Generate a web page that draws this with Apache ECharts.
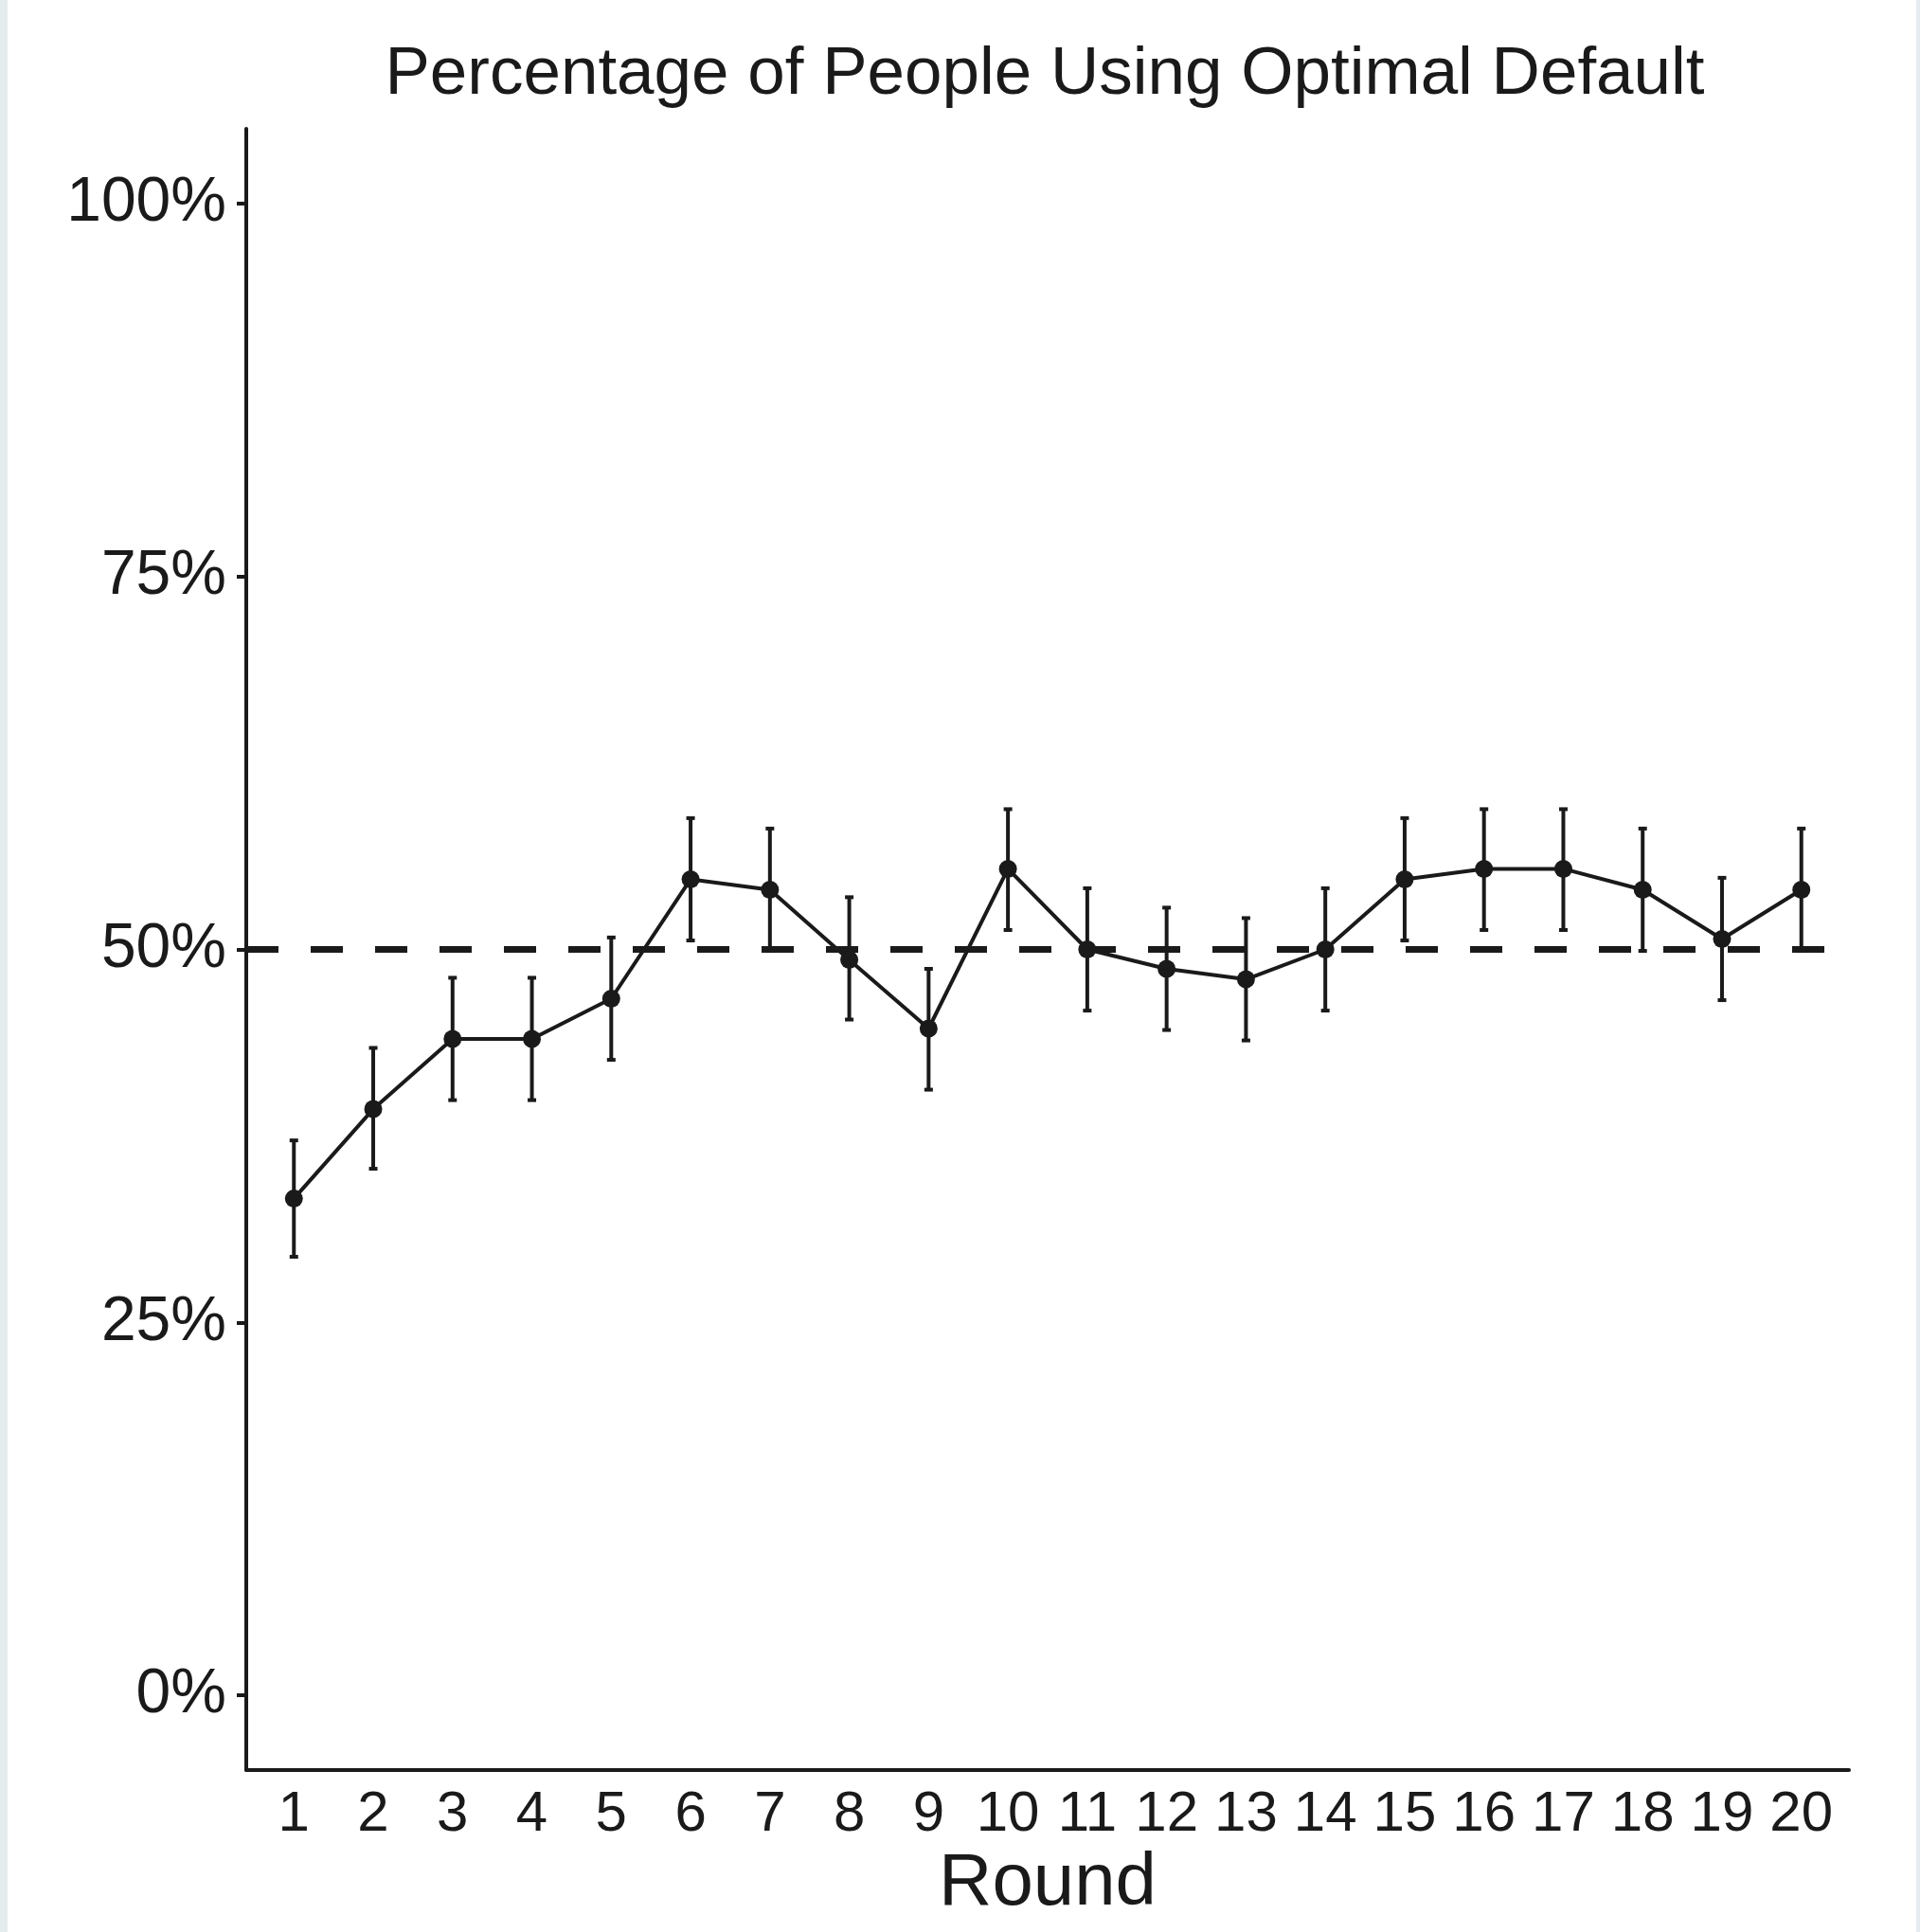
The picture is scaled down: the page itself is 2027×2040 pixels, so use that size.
<!DOCTYPE html>
<html>
<head>
<meta charset="utf-8">
<script src="https://cdn.jsdelivr.net/npm/echarts@6/dist/echarts.min.js"></script>
<style>
  html, body { margin: 0; padding: 0; background: #ffffff; }
  #chart { position: absolute; left: 0; top: 0; width: 2027px; height: 2040px; }
  .strip { position: absolute; top: 0; height: 2040px; background: #e4ecef; }
</style>
</head>
<body>
<div class="strip" style="left:0;width:8px;"></div>
<div class="strip" style="left:2023px;width:4px;"></div>
<div id="chart"></div>
<script>
// ---- data ----
const rounds = [1, 2, 3, 4, 5, 6, 7, 8, 9, 10, 11, 12, 13, 14, 15, 16, 17, 18, 19, 20];
const pctOptimal = [33.3, 39.3, 44.0, 44.0, 46.7, 54.7, 54.0, 49.3, 44.7, 55.4, 50.0, 48.7, 48.0, 50.0, 54.7, 55.4, 55.4, 54.0, 50.7, 54.0];
const errLower = [29.4, 35.3, 39.9, 39.9, 42.6, 50.6, 49.9, 45.3, 40.6, 51.3, 45.9, 44.6, 43.9, 45.9, 50.6, 51.3, 51.3, 49.9, 46.6, 49.9];
const errUpper = [37.2, 43.4, 48.1, 48.1, 50.8, 58.8, 58.1, 53.5, 48.7, 59.4, 54.1, 52.8, 52.1, 54.1, 58.8, 59.4, 59.4, 58.1, 54.8, 58.1];
const yTicks = [0, 25, 50, 75, 100];
const referenceLevel = 50;
const titleText = 'Percentage of People Using Optimal Default';
const xName = 'Round';

const INK = '#1a1a1a';
const FONT = '"Liberation Sans", Arial, Helvetica, sans-serif';

const chart = echarts.init(document.getElementById('chart'), null, { renderer: 'canvas' });

const lineData = rounds.map((r, i) => [r, pctOptimal[i]]);
const errData = rounds.map((r, i) => [r, errLower[i], errUpper[i]]);

const option = {
  backgroundColor: 'transparent',
  animation: false,
  textStyle: { fontFamily: FONT },
  title: {
    text: titleText,
    left: 1098,
    top: 39,
    textAlign: 'center',
    textStyle: { fontFamily: FONT, fontSize: 71, fontWeight: 'normal', color: INK }
  },
  grid: { left: 260, right: 75, top: 136, bottom: 171, containLabel: false },
  xAxis: {
    type: 'value',
    min: 0.4,
    max: 20.6,
    name: xName,
    nameLocation: 'middle',
    nameGap: 79,
    nameTextStyle: { fontFamily: FONT, fontSize: 78, color: INK, verticalAlign: 'top' },
    axisLine: { show: true, onZero: false, lineStyle: { color: INK, width: 4 } },
    axisTick: { show: false, customValues: rounds },
    axisLabel: {
      customValues: rounds,
      margin: 17,
      fontFamily: FONT, fontSize: 60, color: INK,
      formatter: v => String(v)
    },
    splitLine: { show: false }
  },
  yAxis: {
    type: 'value',
    min: -5,
    max: 105,
    axisLine: { show: true, onZero: false, lineStyle: { color: INK, width: 4 } },
    axisTick: { show: true, customValues: yTicks, length: 10, lineStyle: { color: INK, width: 4 } },
    axisLabel: {
      customValues: yTicks,
      margin: 21,
      fontFamily: FONT, fontSize: 66, color: INK,
      formatter: v => v + '%'
    },
    splitLine: { show: false }
  },
  series: [
    {
      type: 'custom',
      name: 'error',
      z: 3,
      data: errData,
      renderItem: function (params, api) {
        const x = api.value(0);
        const lo = api.coord([x, api.value(1)]);
        const hi = api.coord([x, api.value(2)]);
        const half = 4.5;
        const st = { stroke: INK, lineWidth: 4, fill: null };
        return {
          type: 'group',
          children: [
            { type: 'line', shape: { x1: lo[0], y1: lo[1], x2: hi[0], y2: hi[1] }, style: st },
            { type: 'line', shape: { x1: hi[0] - half, y1: hi[1], x2: hi[0] + half, y2: hi[1] }, style: st },
            { type: 'line', shape: { x1: lo[0] - half, y1: lo[1], x2: lo[0] + half, y2: lo[1] }, style: st }
          ]
        };
      }
    },
    {
      type: 'line',
      name: 'pct',
      z: 4,
      data: lineData,
      symbol: 'circle',
      symbolSize: 19,
      showSymbol: true,
      itemStyle: { color: INK, borderWidth: 0 },
      lineStyle: { color: INK, width: 4 },
      markLine: {
        silent: true,
        symbol: ['none', 'none'],
        label: { show: false },
        lineStyle: { color: INK, width: 7, type: [34, 34], cap: 'butt' },
        data: [{ yAxis: referenceLevel }]
      }
    }
  ]
};

chart.setOption(option);
</script>
</body>
</html>
